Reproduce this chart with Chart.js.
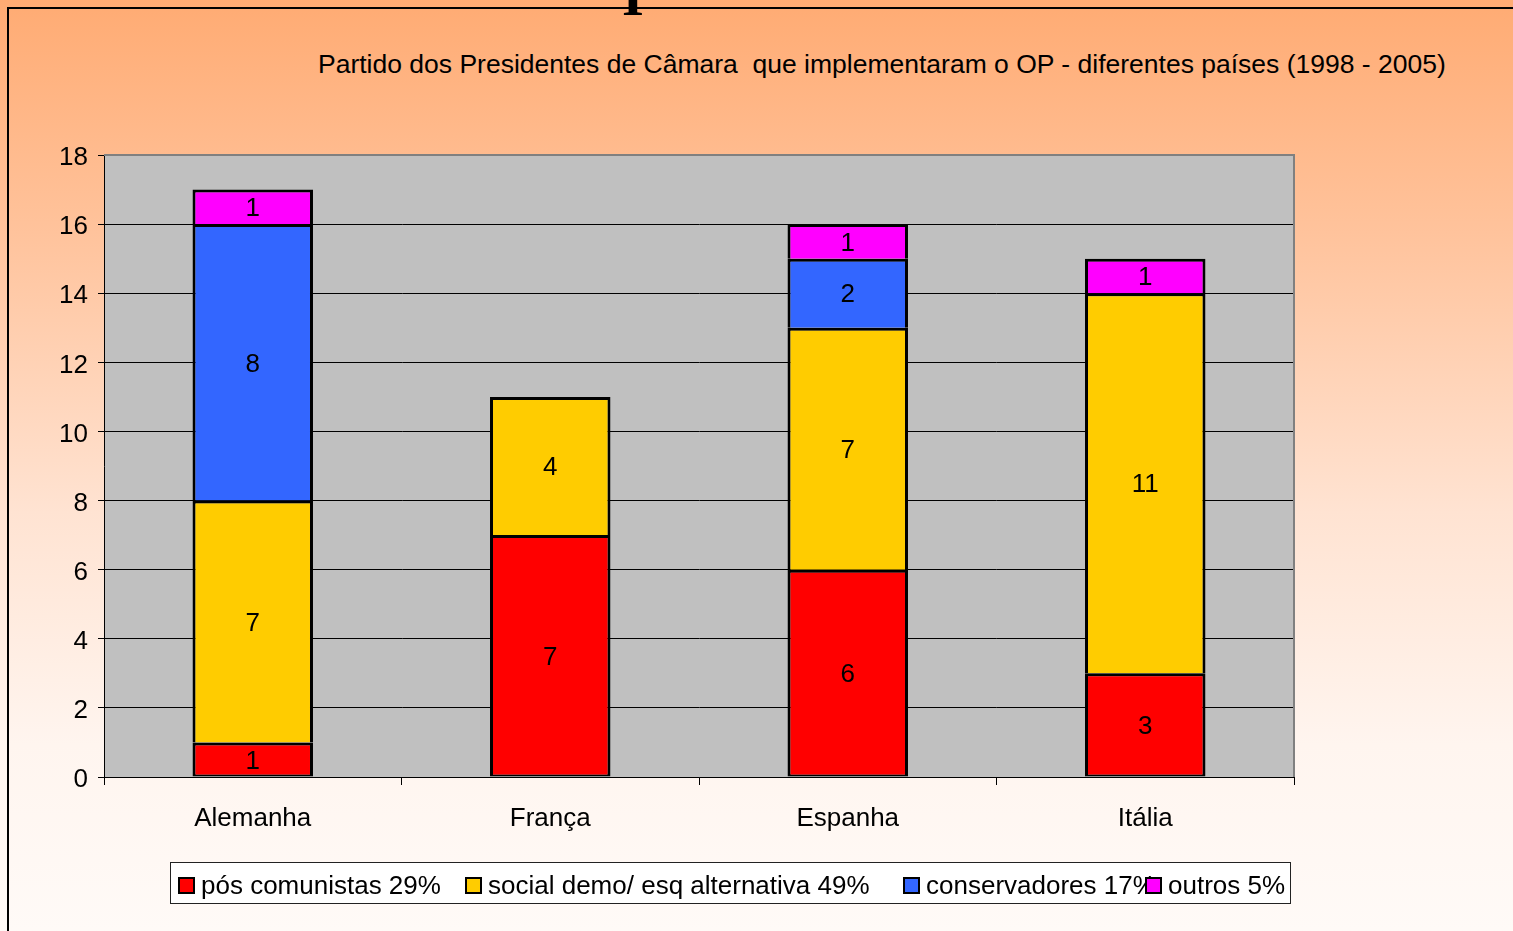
<!DOCTYPE html>
<html>
<head>
<meta charset="utf-8">
<script src="https://cdn.jsdelivr.net/npm/chart.js@4"></script>
<style>
  body {
    margin: 0;
    width: 1513px;
    height: 931px;
    overflow: hidden;
    position: relative;
    font-family: "Liberation Sans", Arial, sans-serif;
    background: linear-gradient(#ffab73 0%, #ffc39c 25%, #ffe3d2 55%, #fff5ef 80%, #fffaf7 100%);
  }
  .frame {
    position: absolute;
    left: 7px;
    top: 7px;
    width: 1520px;
    height: 940px;
    border-top: 2px solid #000;
    border-left: 2px solid #000;
  }
  .cut-glyph {
    position: absolute;
    left: 622px;
    top: -32px;
    font: bold 56px "Liberation Serif", serif;
    line-height: 1;
  }
  .title {
    position: absolute;
    left: 318px;
    top: 49px;
    font-size: 26.5px;
    white-space: nowrap;
  }
  #chartBox {
    position: absolute;
    left: 0;
    top: 0;
    width: 1513px;
    height: 931px;
  }
  .legend {
    position: absolute;
    left: 170px;
    top: 862px;
    width: 1119px;
    height: 40px;
    background: #fff;
    border: 1px solid #222;
  }
  .legend-item {
    position: absolute;
    top: 2px;
    height: 40px;
    display: flex;
    align-items: center;
    font-size: 26px;
    white-space: nowrap;
  }
  .legend-item span.sq {
    display: inline-block;
    width: 13px;
    height: 13px;
    border: 2px solid #000;
    margin-right: 6px;
  }
</style>
</head>
<body>
<div class="frame"></div>
<div class="cut-glyph">I</div>
<div class="title">Partido dos Presidentes de Câmara&nbsp; que implementaram o OP - diferentes países (1998 - 2005)</div>
<div id="chartBox"><canvas id="opChart"></canvas></div>
<div class="legend" id="legend"></div>

<script>
// data
const countries = ["Alemanha", "França", "Espanha", "Itália"];
const posComunistas = [1, 7, 6, 3];
const socialDemo = [7, 4, 7, 11];
const conservadores = [8, 0, 2, 0];
const outros = [1, 0, 1, 1];

const seriesLabels = [
  "pós comunistas 29%",
  "social demo/ esq alternativa 49%",
  "conservadores 17%",
  "outros 5%",
];
const seriesColors = ["#ff0000", "#ffcc00", "#3366ff", "#ff00ff"];
const yTicks = [0, 2, 4, 6, 8, 10, 12, 14, 16, 18];

// legend in the white box below (item offsets inside the box)
const legendLeft = [7, 294, 732, 974];
const legend = document.getElementById("legend");
seriesLabels.forEach((lbl, i) => {
  const item = document.createElement("div");
  item.className = "legend-item";
  item.style.left = legendLeft[i] + "px";
  item.innerHTML = `<span class="sq" style="background:${seriesColors[i]}"></span>${lbl}`;
  legend.appendChild(item);
});

const plotBg = {
  id: "plotBg",
  beforeDraw(chart) {
    const a = chart.chartArea;
    const ctx = chart.ctx;
    ctx.save();
    ctx.fillStyle = "#c0c0c0";
    ctx.fillRect(a.left, a.top, a.right - a.left, a.bottom - a.top);
    ctx.restore();
  },
  afterDatasetsDraw(chart) {
    const a = chart.chartArea;
    const ctx = chart.ctx;
    ctx.save();
    ctx.strokeStyle = "#808080";
    ctx.lineWidth = 2;
    ctx.beginPath();
    ctx.moveTo(a.left, a.top);
    ctx.lineTo(a.right, a.top);
    ctx.lineTo(a.right, a.bottom);
    ctx.stroke();
    ctx.restore();
  },
};

// value labels in the middle of each segment
const segmentLabels = {
  id: "segmentLabels",
  afterDatasetsDraw(chart) {
    const ctx = chart.ctx;
    ctx.save();
    ctx.font = '26px "Liberation Sans", Arial, sans-serif';
    ctx.fillStyle = "#000";
    ctx.textAlign = "center";
    ctx.textBaseline = "middle";
    chart.data.datasets.forEach((ds, di) => {
      const meta = chart.getDatasetMeta(di);
      meta.data.forEach((bar, i) => {
        const v = ds.data[i];
        if (!v) return;
        ctx.fillText(String(v), bar.x, (bar.y + bar.base) / 2 + 2);
      });
    });
    ctx.restore();
  },
};

function makeSet(label, data, color, first) {
  return {
    label: label,
    data: data,
    backgroundColor: color,
    borderColor: "#000",
    borderWidth: { top: 3, left: 3, right: 3, bottom: first ? 2 : 0 },
    borderSkipped: false,
    barPercentage: 0.81,
    categoryPercentage: 0.5,
  };
}

new Chart(document.getElementById("opChart"), {
  type: "bar",
  data: {
    labels: countries,
    datasets: [
      makeSet(seriesLabels[0], posComunistas, seriesColors[0], true),
      makeSet(seriesLabels[1], socialDemo, seriesColors[1], false),
      makeSet(seriesLabels[2], conservadores, seriesColors[2], false),
      makeSet(seriesLabels[3], outros, seriesColors[3], false),
    ],
  },
  options: {
    responsive: true,
    maintainAspectRatio: false,
    animation: false,
    layout: { padding: { left: 10, right: 219, top: 155, bottom: 94 } },
    plugins: {
      legend: { display: false },
      tooltip: { enabled: false },
    },
    scales: {
      x: {
        stacked: true,
        afterFit: (s) => { s.height = 60; },
        grid: {
          offset: true,
          drawOnChartArea: false,
          drawTicks: true,
          tickLength: 8,
          color: "#000",
        },
        border: { color: "#000", width: 1 },
        ticks: {
          color: "#000",
          padding: 18,
          font: { family: '"Liberation Sans", Arial, sans-serif', size: 26 },
        },
      },
      y: {
        stacked: true,
        min: 0,
        max: 18,
        afterFit: (s) => { s.width = 94; },
        afterBuildTicks: (s) => { s.ticks = yTicks.map((v) => ({ value: v })); },
        grid: {
          color: "#000",
          lineWidth: 1,
          drawTicks: true,
          tickLength: 6,
        },
        border: { color: "#000", width: 1 },
        ticks: {
          color: "#000",
          padding: 10,
          labelOffset: 3,
          font: { family: '"Liberation Sans", Arial, sans-serif', size: 26 },
        },
      },
    },
  },
  plugins: [plotBg, segmentLabels],
});
</script>
</body>
</html>
